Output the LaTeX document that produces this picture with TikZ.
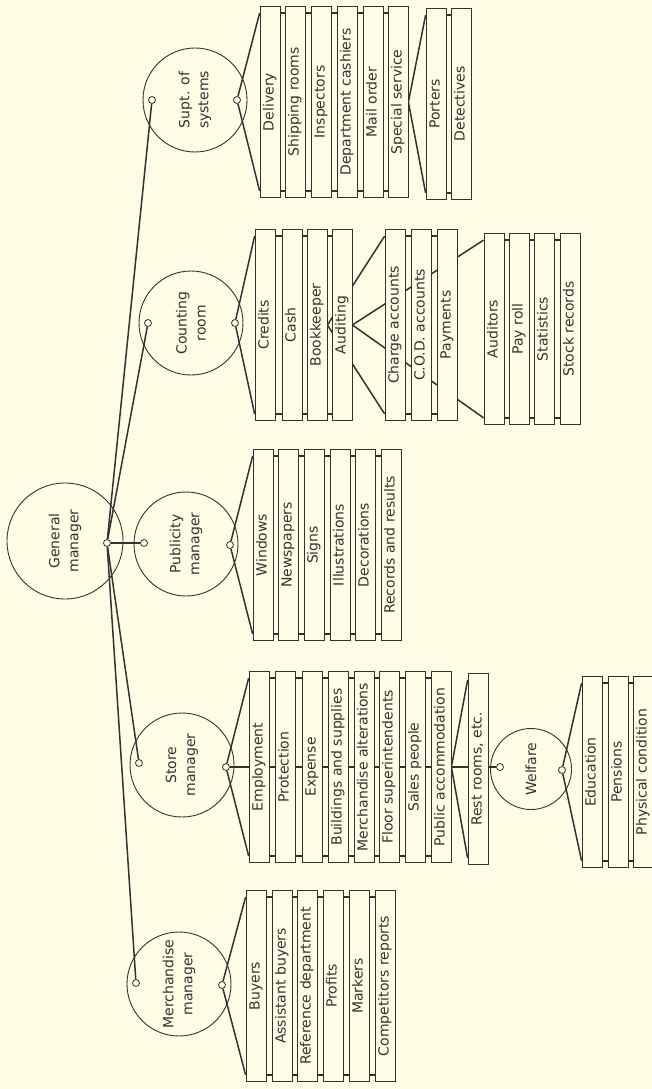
\documentclass[tikz,border=0pt]{standalone}
\usepackage{fontspec}
\setmainfont{DejaVu Sans}
\definecolor{paper}{RGB}{253,253,229}
\definecolor{ink}{RGB}{55,48,50}
\pgfdeclarelayer{back}
\pgfsetlayers{back,main}
\tikzset{
  unit/.style={circle,draw=ink,line width=0.9pt,minimum size=104pt,inner sep=0pt,rotate=90,align=center,text=ink,font=\fontsize{14}{19}\selectfont},
  port/.style={circle,draw=ink,fill=paper,line width=0.8pt,minimum size=7pt,inner sep=0pt},
  duty/.style={draw=ink,fill=paper,line width=0.8pt,rotate=90,minimum width=191pt,minimum height=20pt,inner sep=0pt,text height=10pt,text depth=3pt,text=ink,font=\fontsize{14}{16}\selectfont},
  link/.style={draw=ink,line width=1.5pt},
  rung/.style={draw=ink,line width=1.4pt},
}
\begin{document}
\begin{tikzpicture}[x=1pt,y=-1pt]
\useasboundingbox (0,0) rectangle (652,1089);
\node[unit,minimum size=116pt] (gm) at (65,541) {General\\manager};
\node[unit] (sup) at (195,100) {Supt. of\\systems};
\node[unit] (cnt) at (191,323) {Counting\\room};
\node[unit] (pub) at (186,544) {Publicity\\manager};
\node[unit] (stm) at (182,765) {Store\\manager};
\node[unit] (mer) at (179,984) {Merchandise\\manager};
\node[unit,minimum size=81pt] (wel) at (531,769) {Welfare};
\node[port] (gm-r) at (107,543) {};
\node[port] (sup-l) at (152,100) {};
\node[port] (sup-r) at (237,100) {};
\node[port] (cnt-l) at (148,323) {};
\node[port] (cnt-r) at (235,323) {};
\node[port] (pub-l) at (144,543) {};
\node[port] (pub-r) at (230,545) {};
\node[port] (stm-l) at (139,763) {};
\node[port] (stm-r) at (226,767) {};
\node[port] (mer-l) at (136,983) {};
\node[port] (mer-r) at (222,985) {};
\node[port] (wel-l) at (500,767) {};
\node[port] (wel-r) at (562,770) {};
\node[duty] (dlv) at (270,102) {Delivery};
\node[duty] (shp) at (295,102) {Shipping rooms};
\node[duty] (ins) at (321,102) {Inspectors};
\node[duty] (dep) at (347,102) {Department cashiers};
\node[duty] (mlo) at (373,102) {Mail order};
\node[duty] (sps) at (398,102) {Special service};
\node[duty] (prt) at (436,104) {Porters};
\node[duty] (det) at (461,104) {Detectives};
\node[duty] (crd) at (265,325) {Credits};
\node[duty] (csh) at (292,325) {Cash};
\node[duty] (bkk) at (317,325) {Bookkeeper};
\node[duty] (aud) at (342,325) {Auditing};
\node[duty] (chg) at (395,325) {Charge accounts};
\node[duty] (cod) at (421,325) {C.O.D. accounts};
\node[duty] (pay) at (447,325) {Payments};
\node[duty] (adt) at (494,329) {Auditors};
\node[duty] (prl) at (519,329) {Pay roll};
\node[duty] (sta) at (544,329) {Statistics};
\node[duty] (stk) at (570,329) {Stock records};
\node[duty] (win) at (263,545) {Windows};
\node[duty] (nws) at (288,545) {Newspapers};
\node[duty] (sgn) at (314,545) {Signs};
\node[duty] (ill) at (340,545) {Illustrations};
\node[duty] (dec) at (365,545) {Decorations};
\node[duty] (rec) at (391,545) {Records and results};
\node[duty] (emp) at (259,767) {Employment};
\node[duty] (pro) at (285,767) {Protection};
\node[duty] (exs) at (312,767) {Expense};
\node[duty] (bld) at (338,767) {Buildings and supplies};
\node[duty] (mal) at (364,767) {Merchandise alterations};
\node[duty] (flr) at (389,767) {Floor superintendents};
\node[duty] (sal) at (415,767) {Sales people};
\node[duty] (pac) at (441,767) {Public accommodation};
\node[duty] (rst) at (478,769) {Rest rooms, etc.};
\node[duty] (edu) at (592,772) {Education};
\node[duty] (pen) at (618,772) {Pensions};
\node[duty] (phy) at (643,772) {Physical condition};
\node[duty] (buy) at (256,986) {Buyers};
\node[duty] (asb) at (282,986) {Assistant buyers};
\node[duty] (rfd) at (307,986) {Reference department};
\node[duty] (prf) at (333,986) {Profits};
\node[duty] (mrk) at (359,986) {Markers};
\node[duty] (cmp) at (385,986) {Competitors reports};
\begin{pgfonlayer}{back}
\fill[paper] (0,0) rectangle (652,1089);
\draw[link] (gm-r) -- (sup-l);
\draw[link] (gm-r) -- (cnt-l);
\draw[link] (gm-r) -- (pub-l);
\draw[link] (gm-r) -- (stm-l);
\draw[link] (gm-r) -- (mer-l);
\draw[link] ([yshift=-7pt]dlv.north east) -- (sup-r) -- ([yshift=7pt]dlv.north west);
\draw[link] ([yshift=-7pt]prt.north east) -- (sps.south) -- ([yshift=7pt]prt.north west);
\draw[link] ([yshift=-7pt]crd.north east) -- (cnt-r) -- ([yshift=7pt]crd.north west);
\draw[link] ([yshift=-7pt]chg.north east) -- (bkk.south) -- ([yshift=7pt]chg.north west);
\draw[link] ([yshift=-7pt]adt.north east) -- (aud.south) -- ([yshift=7pt]adt.north west);
\draw[link] ([yshift=-7pt]win.north east) -- (pub-r) -- ([yshift=7pt]win.north west);
\draw[link] ([yshift=-7pt]emp.north east) -- (stm-r) -- ([yshift=7pt]emp.north west);
\draw[link] (stm-r) -- (wel-l);
\draw[link] ([yshift=-7pt]rst.north east) -- (pac.south) -- ([yshift=7pt]rst.north west);
\draw[link] ([yshift=-7pt]edu.north east) -- (wel-r) -- ([yshift=7pt]edu.north west);
\draw[link] ([yshift=-7pt]buy.north east) -- (mer-r) -- ([yshift=7pt]buy.north west);
\draw[rung] ([yshift=-7pt]dlv.north east) -- ([yshift=-7pt]sps.south east) ([yshift=7pt]dlv.north west) -- ([yshift=7pt]sps.south west);
\draw[rung] ([yshift=-7pt]prt.north east) -- ([yshift=-7pt]det.south east) ([yshift=7pt]prt.north west) -- ([yshift=7pt]det.south west);
\draw[rung] ([yshift=-7pt]crd.north east) -- ([yshift=-7pt]aud.south east) ([yshift=7pt]crd.north west) -- ([yshift=7pt]aud.south west);
\draw[rung] ([yshift=-7pt]chg.north east) -- ([yshift=-7pt]pay.south east) ([yshift=7pt]chg.north west) -- ([yshift=7pt]pay.south west);
\draw[rung] ([yshift=-7pt]adt.north east) -- ([yshift=-7pt]stk.south east) ([yshift=7pt]adt.north west) -- ([yshift=7pt]stk.south west);
\draw[rung] ([yshift=-7pt]win.north east) -- ([yshift=-7pt]rec.south east) ([yshift=7pt]win.north west) -- ([yshift=7pt]rec.south west);
\draw[rung] ([yshift=-7pt]emp.north east) -- ([yshift=-7pt]pac.south east) ([yshift=7pt]emp.north west) -- ([yshift=7pt]pac.south west);
\draw[rung] ([yshift=-7pt]edu.north east) -- ([yshift=-7pt]phy.south east) ([yshift=7pt]edu.north west) -- ([yshift=7pt]phy.south west);
\draw[rung] ([yshift=-7pt]buy.north east) -- ([yshift=-7pt]cmp.south east) ([yshift=7pt]buy.north west) -- ([yshift=7pt]cmp.south west);
\end{pgfonlayer}
\end{tikzpicture}
\end{document}
